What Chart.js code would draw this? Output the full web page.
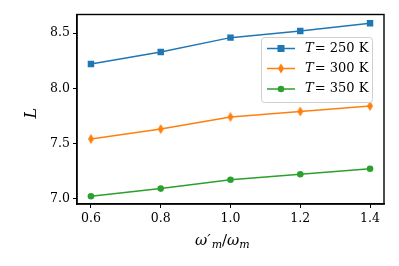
<!DOCTYPE html>
<html><head><meta charset="utf-8">
<script src="https://cdn.jsdelivr.net/npm/chart.js@4/dist/chart.umd.min.js"></script>
<style>html,body{margin:0;padding:0;background:#fff}#wrap{width:399px;height:266px}</style>
</head><body><div id="wrap"><canvas id="c" width="399" height="266"></canvas></div>
<script>
const xValues = [0.6, 0.8, 1.0, 1.2, 1.4];
const seriesT250 = [8.22, 8.33, 8.46, 8.52, 8.59];
const seriesT300 = [7.54, 7.63, 7.74, 7.79, 7.84];
const seriesT350 = [7.02, 7.09, 7.17, 7.22, 7.27];
const seriesLabels = ['T = 250 K', 'T = 300 K', 'T = 350 K'];
const xTicks = [0.6, 0.8, 1.0, 1.2, 1.4];
const yTicks = [7.0, 7.5, 8.0, 8.5];
const xTitleParts = [['ω','n'],['′','n'],['m','s'],['/','u'],['ω','n'],['m','s']];
const yTitle = 'L';

function thinDiamond(color){
  const c = document.createElement('canvas'); c.width = 8; c.height = 11;
  const g = c.getContext('2d');
  g.fillStyle = color; g.beginPath();
  g.moveTo(4,0.5); g.lineTo(7,5.5); g.lineTo(4,10.5); g.lineTo(1,5.5); g.closePath(); g.fill();
  return c;
}
const diamond = thinDiamond('#ff7f0e');
const pts = a => a.map((v,i)=>({x:xValues[i], y:v}));

const frame = {
  id:'frame',
  afterDraw(chart){
    const {ctx, chartArea:a} = chart;
    ctx.save(); ctx.strokeStyle='#000'; ctx.lineWidth=1.4;
    ctx.strokeRect(a.left, a.top, a.right-a.left, a.bottom-a.top);
    // legend
    const bx=261, by=37, bw=111, bh=65;
    ctx.fillStyle='rgba(255,255,255,0.85)'; ctx.strokeStyle='#d0d0d0'; ctx.lineWidth=1;
    ctx.beginPath(); ctx.roundRect(bx+0.5,by+0.5,bw,bh,3); ctx.fill(); ctx.stroke();
    const rows=[48.5, 68.5, 89];
    chart.data.datasets.forEach((ds,i)=>{
      const y=rows[i];
      ctx.strokeStyle=ds.borderColor; ctx.lineWidth=1.5;
      ctx.beginPath(); ctx.moveTo(267,y); ctx.lineTo(295,y); ctx.stroke();
      ctx.fillStyle=ds.borderColor;
      if(i===0){ ctx.fillRect(281-3.5,y-3.5,7,7); }
      else if(i===1){ ctx.drawImage(diamond,281-4,y-5.5); }
      else { ctx.beginPath(); ctx.arc(281,y,3.3,0,Math.PI*2); ctx.fill(); }
      ctx.fillStyle='#000'; ctx.textBaseline='middle';
      ctx.font='italic 13px "DejaVu Serif"';
      ctx.fillText('T', 305, y);
      let x = 305 + ctx.measureText('T').width + 1;
      ctx.font='13px "DejaVu Serif"';
      const rest = ds.label.slice(1).replace(' = ','= ');
      ctx.fillText(rest, x, y);
    });
    // x title
    ctx.fillStyle='#000'; ctx.textBaseline='alphabetic';
    let x = 195; const base = 245;
    xTitleParts.forEach(([t,k])=>{
      if(k==='s'){ ctx.font='italic 11px "DejaVu Serif"'; ctx.fillText(t,x,base+3); }
      else if(k==='u'){ ctx.font='15px "DejaVu Serif"'; ctx.fillText(t,x,base); }
      else { ctx.font='italic 15px "DejaVu Serif"'; ctx.fillText(t,x,base); }
      x += ctx.measureText(t).width + (t==='′'?1:0);
    });
    // y title
    ctx.translate(32, (a.top+a.bottom)/2+4); ctx.rotate(-Math.PI/2);
    ctx.font='italic 16px "DejaVu Serif"'; ctx.textAlign='center'; ctx.textBaseline='middle';
    ctx.fillText(yTitle, 0, 0);
    ctx.restore();
  }
};

new Chart(document.getElementById('c'), {
  type:'line',
  data:{datasets:[
    {label:seriesLabels[0], data:pts(seriesT250), borderColor:'#1f77b4', backgroundColor:'#1f77b4', borderWidth:1.5, pointStyle:'rect', pointRadius:3.5},
    {label:seriesLabels[1], data:pts(seriesT300), borderColor:'#ff7f0e', backgroundColor:'#ff7f0e', borderWidth:1.5, pointStyle:diamond, pointRadius:4},
    {label:seriesLabels[2], data:pts(seriesT350), borderColor:'#2ca02c', backgroundColor:'#2ca02c', borderWidth:1.5, pointStyle:'circle', pointRadius:3.3, pointBorderWidth:0}
  ]},
  options:{
    responsive:false, animation:false, devicePixelRatio:1,
    layout:{padding:{top:14.5, right:15, left:0, bottom:0}},
    plugins:{legend:{display:false}, tooltip:{enabled:false}},
    scales:{
      x:{type:'linear', min:0.56, max:1.44,
        afterBuildTicks(s){ s.ticks = xTicks.map(v=>({value:v})); },
        afterFit(s){ s.height = 62; },
        ticks:{color:'#000', font:{family:'DejaVu Serif', size:12.5}, padding:3, maxRotation:0, callback:v=>v.toFixed(1)},
        grid:{drawOnChartArea:false, drawTicks:true, tickLength:4, color:'#000', tickWidth:1},
        border:{display:true, color:'#000', width:1.4}
      },
      y:{type:'linear', min:6.95, max:8.67,
        afterBuildTicks(s){ s.ticks = yTicks.map(v=>({value:v})); },
        afterFit(s){ s.width = 77; },
        ticks:{color:'#000', font:{family:'DejaVu Serif', size:12.5}, padding:3, callback:v=>v.toFixed(1)},
        grid:{drawOnChartArea:false, drawTicks:true, tickLength:4, color:'#000', tickWidth:1},
        border:{display:true, color:'#000', width:1.4}
      }
    }
  },
  plugins:[frame]
});
</script></body></html>
